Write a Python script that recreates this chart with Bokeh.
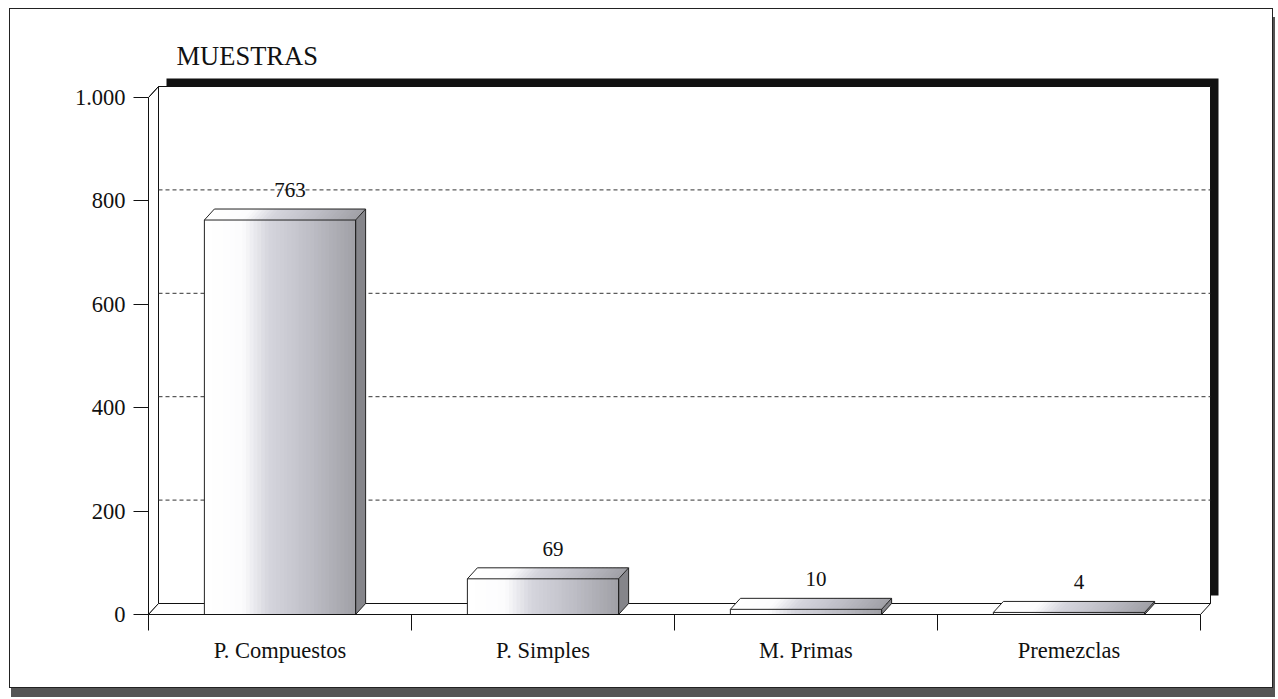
from bokeh.plotting import figure
from bokeh.models import Range1d, FixedTicker
from bokeh.core.properties import value
from bokeh.embed import file_html
from bokeh.resources import INLINE

# ---- data ----
categories = ["P. Compuestos", "P. Simples", "M. Primas", "Premezclas"]
values = [763, 69, 10, 4]
y_ticks = [0, 200, 400, 600, 800, 1000]
y_tick_labels = ["0", "200", "400", "600", "800", "1.000"]
grid_values = [200, 400, 600, 800]
title_text = "MUESTRAS"

# ---- layout ----
W, H = 1264, 680
ML, MR, MT, MB = 138, 52, 67, 75
frame_w = W - ML - MR
frame_h = H - MT - MB
n = len(categories)
x_scale = 263.0            # px per category
y_scale = 0.517            # px per unit
x_end = frame_w / x_scale
y_end = frame_h / y_scale
ymax = y_ticks[-1]

DX = 10 / x_scale          # depth offset (3D)
DY = 11 / y_scale
SX = 8 / x_scale           # shadow offset
SY = 8 / y_scale
half = 0.2875              # bar half width

FONT = value("Liberation Serif")

p = figure(width=W, height=H, output_backend="svg", toolbar_location=None,
           x_range=Range1d(0, x_end), y_range=Range1d(0, y_end),
           min_border_left=ML, min_border_right=MR, min_border_top=MT,
           min_border_bottom=MB, background_fill_color="white",
           border_fill_color="white", outline_line_color=None)
p.styles = {"border": "1px solid #222", "box-shadow": "2px 9px 0 #555",
            "margin-left": "9px", "margin-top": "8px"}

p.title.text = title_text
p.title.align = "left"
p.title.offset = 28
p.title.standoff = 12
p.title.text_font = "Liberation Serif"
p.title.text_font_size = "26.5px"
p.title.text_font_style = "normal"
p.title.text_color = "#111"

p.xgrid.visible = False
p.ygrid.visible = False

# shadow behind the back wall
p.quad(left=DX + SX, right=n + DX + SX, bottom=DY + SY, top=ymax + DY + SY,
       fill_color="#111", line_color=None)
# back wall
p.quad(left=DX, right=n + DX, bottom=DY, top=ymax + DY,
       fill_color="white", line_color="#111", line_width=1)
# left side wall
p.patch([0, DX, DX, 0], [0, DY, ymax + DY, ymax],
        fill_color="white", line_color="#111", line_width=1)
# floor
p.patch([0, n, n + DX, DX], [0, 0, DY, DY],
        fill_color="white", line_color="#111", line_width=1)
# gridlines on back wall
p.segment(x0=[DX] * len(grid_values), y0=[g + DY for g in grid_values],
          x1=[n + DX] * len(grid_values), y1=[g + DY for g in grid_values],
          line_color="#333", line_width=1, line_dash="4 3")
# left wall top diagonal
p.segment(x0=[0], y0=[ymax], x1=[DX], y1=[ymax + DY], line_color="#111")

# gradient stops for bar faces
stops = [(0.0, (255, 255, 255)), (0.25, (252, 252, 253)), (0.42, (214, 214, 222)),
         (0.7, (190, 190, 198)), (1.0, (160, 160, 166))]


def grad(t):
    for (t0, c0), (t1, c1) in zip(stops[:-1], stops[1:]):
        if t0 <= t <= t1:
            f = (t - t0) / (t1 - t0) if t1 > t0 else 0
            c = [int(round(a + (b - a) * f)) for a, b in zip(c0, c1)]
            return "#%02x%02x%02x" % tuple(c)
    return "#%02x%02x%02x" % stops[-1][1]


NS = 40
for i, v in enumerate(values):
    c = i + 0.5
    x0, x1 = c - half, c + half
    sw = (x1 - x0) / NS
    lefts = [x0 + k * sw for k in range(NS)]
    rights = [min(l + sw * 1.6, x1) for l in lefts]
    cols = [grad((k + 0.5) / NS) for k in range(NS)]
    # front face strips
    p.quad(left=lefts, right=rights, bottom=0, top=v,
           fill_color=cols, line_color=None)
    # top face strips
    xs_top = [[l, r, r + DX, l + DX] for l, r in zip(lefts, rights)]
    ys_top = [[v, v, v + DY, v + DY] for _ in lefts]
    p.patches(xs_top, ys_top, fill_color=cols, line_color=None)
    # right side face
    p.patch([x1, x1 + DX, x1 + DX, x1], [0, DY, v + DY, v],
            fill_color="#85858a", line_color="#222", line_width=1)
    # outlines
    p.quad(left=x0, right=x1, bottom=0, top=v, fill_color=None,
           line_color="#222", line_width=1)
    p.line([x0, x0 + DX, x1 + DX], [v, v + DY, v + DY], line_color="#222", line_width=1)

# value labels
p.text(x=[i + 0.5 + DX for i in range(n)], y=[v + DY for v in values],
       text=[str(v) for v in values], text_align="center", text_baseline="bottom",
       y_offset=-12, text_font=FONT, text_font_size="21px", text_color="#111")

# y axis
ya = p.yaxis[0]
ya.ticker = FixedTicker(ticks=y_ticks, minor_ticks=[])
ya.major_label_overrides = {t: l for t, l in zip(y_ticks, y_tick_labels)}
ya.bounds = (0, ymax)
ya.major_tick_out = 15
ya.major_tick_in = 0
ya.minor_tick_out = 0
ya.minor_tick_in = 0
ya.major_label_standoff = 8
ya.major_label_text_font = "Liberation Serif"
ya.major_label_text_font_size = "22.5px"
ya.major_label_text_color = "#111"
ya.axis_line_color = "#111"
ya.major_tick_line_color = "#111"

# x axis
xa = p.xaxis[0]
centers = [i + 0.5 for i in range(n)]
xa.ticker = FixedTicker(ticks=centers, minor_ticks=list(range(n + 1)))
xa.major_label_overrides = {c: cat for c, cat in zip(centers, categories)}
xa.bounds = (0, n)
xa.major_tick_out = 0
xa.major_tick_in = 0
xa.minor_tick_out = 16
xa.minor_tick_in = 0
xa.minor_tick_line_color = "#111"
xa.major_label_standoff = 7
xa.major_label_text_font = "Liberation Serif"
xa.major_label_text_font_size = "22.5px"
xa.major_label_text_color = "#111"
xa.axis_line_color = "#111"

open("out.html", "w").write(file_html(p, INLINE))
